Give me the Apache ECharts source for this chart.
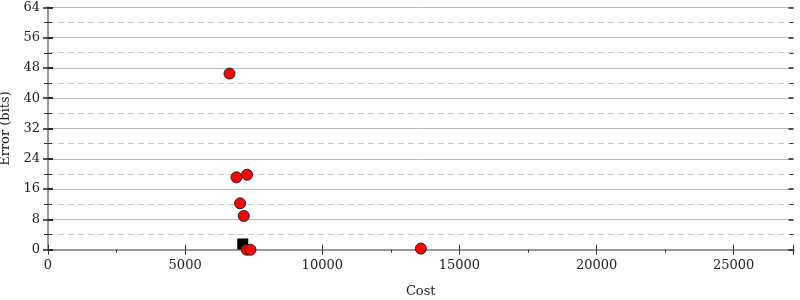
<!DOCTYPE html>
<html>
<head>
<meta charset="utf-8">
<script src="https://cdn.jsdelivr.net/npm/echarts@6/dist/echarts.min.js"></script>
<style>html,body{margin:0;padding:0;background:#fff}#c{width:800px;height:300px}</style>
</head>
<body>
<div id="c"></div>
<script>
var circleCost = [6617, 6872, 7258, 7003, 7138, 7247, 7382, 13595];
var circleError = [46.5, 19.1, 19.8, 12.25, 8.9, 0, 0, 0.3];
var squareCost = [7101];
var squareError = [1.5];
var xTicks = [0, 5000, 10000, 15000, 20000, 25000];
var yTicks = [0, 8, 16, 24, 32, 40, 48, 56, 64];

var FONT = 'DejaVu Serif';
var X_MAX = 27180;
var chart = echarts.init(document.getElementById('c'), null, {renderer: 'canvas'});
function pairs(xs, ys) { return xs.map(function (x, i) { return [x, ys[i]]; }); }
var axisLineStyle = {color: '#999', width: 2};
chart.setOption({
  animation: false,
  grid: {left: 48, right: 6.5, top: 7.3, bottom: 50.3, containLabel: false, outerBoundsMode: 'none'},
  xAxis: [
    {type: 'value', min: 0, max: X_MAX, interval: 5000, position: 'bottom',
     name: 'Cost', nameLocation: 'middle', nameGap: 35,
     nameTextStyle: {fontFamily: FONT, fontSize: 13, color: '#222'},
     axisLine: {lineStyle: axisLineStyle},
     axisTick: {show: true, length: 5, lineStyle: {color: '#333', width: 1}},
     minorTick: {show: true, splitNumber: 2, length: 3, lineStyle: {color: '#333'}},
     axisLabel: {fontFamily: FONT, fontSize: 13, color: '#222', margin: 9, showMaxLabel: false,
       formatter: function (v) { return xTicks.indexOf(v) >= 0 ? String(v) : ''; }},
     splitLine: {show: false}},
    {type: 'value', min: 0, max: X_MAX, interval: 5000, position: 'bottom',
     axisLine: {show: false},
     axisTick: {show: true, inside: true, length: 5, lineStyle: {color: '#333', width: 1}},
     minorTick: {show: false}, axisLabel: {show: false}, splitLine: {show: false}},
    {type: 'value', min: 0, max: X_MAX, position: 'top',
     axisLine: {show: true, lineStyle: axisLineStyle},
     axisTick: {show: false}, axisLabel: {show: false}, splitLine: {show: false}}
  ],
  yAxis: [
    {type: 'value', min: 0, max: 64, interval: 8, position: 'left',
     name: 'Error (bits)', nameLocation: 'middle', nameGap: 30, nameRotate: 90,
     nameTextStyle: {fontFamily: FONT, fontSize: 13, color: '#222'},
     axisLine: {show: true, lineStyle: axisLineStyle},
     axisTick: {show: true, length: 5, lineStyle: {color: '#222', width: 1.5}},
     minorTick: {show: true, splitNumber: 2, length: 4, lineStyle: {color: '#333'}},
     axisLabel: {fontFamily: FONT, fontSize: 13, color: '#222', margin: 8,
       formatter: function (v) { return yTicks.indexOf(v) >= 0 ? String(v) : ''; }},
     splitLine: {show: true, lineStyle: {color: '#bbb', width: 1}},
     minorSplitLine: {show: true, lineStyle: {color: '#c8c8c8', width: 1, type: [6, 4]}}},
    {type: 'value', min: 0, max: 64, interval: 8, position: 'left',
     axisLine: {show: false},
     axisTick: {show: true, inside: true, length: 5, lineStyle: {color: '#222', width: 1.5}},
     minorTick: {show: true, splitNumber: 2, length: 4, lineStyle: {color: '#333'}},
     axisLabel: {show: false}, splitLine: {show: false}},
    {type: 'value', min: 0, max: 64, interval: 8, position: 'right',
     axisLine: {show: true, lineStyle: axisLineStyle},
     axisTick: {show: true, length: 5, lineStyle: {color: '#222', width: 1.5}},
     minorTick: {show: true, splitNumber: 2, length: 4, lineStyle: {color: '#333'}},
     axisLabel: {show: false}, splitLine: {show: false}},
    {type: 'value', min: 0, max: 64, interval: 8, position: 'right',
     axisLine: {show: false},
     axisTick: {show: true, inside: true, length: 5, lineStyle: {color: '#222', width: 1.5}},
     minorTick: {show: true, splitNumber: 2, inside: true, length: 4, lineStyle: {color: '#333'}},
     axisLabel: {show: false}, splitLine: {show: false}}
  ],
  series: [
    {type: 'scatter', xAxisIndex: 0, yAxisIndex: 0, symbol: 'rect', symbolSize: 11,
     itemStyle: {color: '#000', opacity: 1}, data: pairs(squareCost, squareError), clip: false, z: 3},
    {type: 'scatter', xAxisIndex: 0, yAxisIndex: 0, symbol: 'circle', symbolSize: 11,
     itemStyle: {color: '#ff0000', borderColor: '#222', borderWidth: 1, opacity: 1},
     data: pairs(circleCost, circleError), clip: false, z: 4}
  ]
});
</script>
</body>
</html>
